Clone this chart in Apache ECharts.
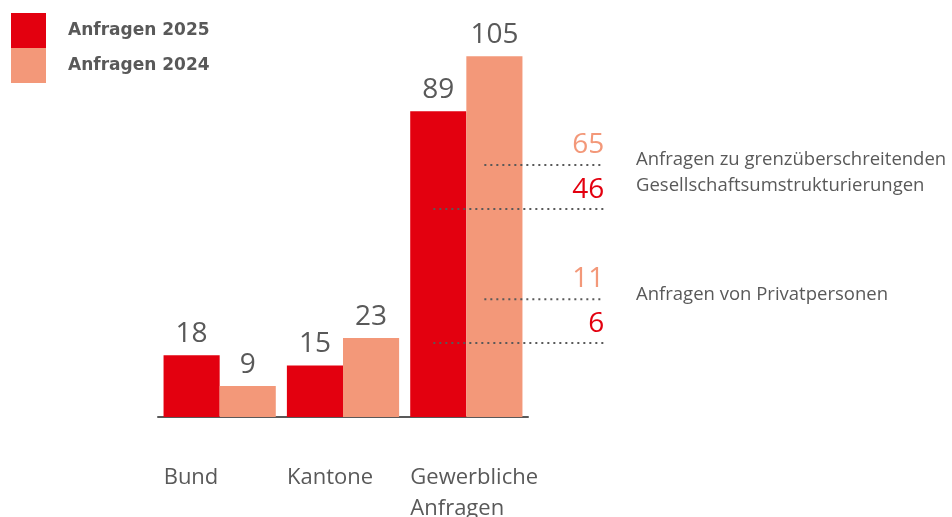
<!DOCTYPE html>
<html>
<head>
<meta charset="utf-8">
<script src="https://cdn.jsdelivr.net/npm/echarts@6/dist/echarts.min.js"></script>
<style>
  html, body { margin: 0; padding: 0; background: #fff; }
  #ChartDom { width: 952px; height: 517px; }
</style>
</head>
<body>
<div id="ChartDom"></div>
<script>
const categories = ["Bund", "Kantone", "Gewerbliche\nAnfragen"]
const seriesNames = ["Anfragen 2025", "Anfragen 2024"]
const values2025 = [18, 15, 89]
const values2024 = [9, 23, 105]

// Teilmengen der gewerblichen Anfragen
const detailLabels = ["Anfragen zu grenzüberschreitenden\nGesellschaftsumstrukturierungen", "Anfragen von Privatpersonen"]
const detail2024 = [65, 11]
const detail2025 = [46, 6]

// where the dotted guide lines sit (axis units) – layout only
const guideLevel2024 = [73.3, 34.3]
const guideLevel2025 = [60.5, 21.5]
const descOffset = [8, -4]

const RED = "#E3000F"
const SALMON = "#F39879"
const GREY = "#595959"
const FONT = "Open Sans"

const myChart = echarts.init(document.getElementById("ChartDom"))

let option = {
  animation: false,
  textStyle: { fontFamily: FONT },
  color: [RED, SALMON],
  legend: {
    orient: "vertical",
    left: 11,
    top: 13,
    padding: 0,
    itemGap: 0,
    itemWidth: 35,
    itemHeight: 35,
    icon: "rect",
    selectedMode: false,
    textStyle: {
      color: GREY,
      fontSize: 17,
      fontWeight: "bold",
      fontFamily: "DejaVu Sans",
      padding: [5, 0, 0, 17],
    },
    data: seriesNames,
  },
  grid: {
    left: 158,
    right: 424,
    top: 39,
    bottom: 100,
    containLabel: false,
    outerBoundsMode: "none",
  },
  xAxis: {
    type: "category",
    data: categories,
    axisLine: { show: true, lineStyle: { color: GREY, width: 2 } },
    axisTick: { show: false },
    axisLabel: {
      margin: 45,
      interval: 0,
      formatter: (v) => v.split("\n").map((s) => "{a|" + s + "}").join("\n"),
      rich: {
        a: {
          width: 112,
          align: "left",
          fontSize: 22,
          lineHeight: 31,
          color: GREY,
          fontFamily: FONT,
        },
      },
    },
  },
  yAxis: {
    type: "value",
    min: 0,
    max: 110,
    show: false,
    splitLine: { show: false },
  },
  series: [
    {
      name: seriesNames[0],
      type: "bar",
      barGap: 0,
      barCategoryGap: "9%",
      data: values2025,
      label: { show: true, position: "top", distance: 7, fontSize: 28, color: GREY, fontFamily: FONT },
    },
    {
      name: seriesNames[1],
      type: "bar",
      barGap: 0,
      barCategoryGap: "9%",
      data: values2024,
      label: { show: true, position: "top", distance: 7, fontSize: 28, color: GREY, fontFamily: FONT },
    },
  ],
}
myChart.setOption(option)

// dotted guides + annotations next to "Gewerbliche Anfragen"
const cx = myChart.convertToPixel({ xAxisIndex: 0 }, categories[2])
const endX = cx + 138
const dotted = { stroke: GREY, lineWidth: 2, lineDash: [2, 4] }
let graphics = []
detailLabels.forEach((desc, i) => {
  const y24 = myChart.convertToPixel({ yAxisIndex: 0 }, guideLevel2024[i])
  const y25 = myChart.convertToPixel({ yAxisIndex: 0 }, guideLevel2025[i])
  graphics.push(
    { type: "line", z: 100, shape: { x1: cx + 18, y1: y24, x2: endX, y2: y24 }, style: dotted },
    { type: "line", z: 100, shape: { x1: cx - 33, y1: y25, x2: endX, y2: y25 }, style: dotted },
    {
      type: "text", z: 100, x: endX, y: y24 - 20,
      style: { text: String(detail2024[i]), fill: SALMON, font: "28px '" + FONT + "'", align: "right", verticalAlign: "middle" },
    },
    {
      type: "text", z: 100, x: endX, y: y25 - 19,
      style: { text: String(detail2025[i]), fill: RED, font: "28px '" + FONT + "'", align: "right", verticalAlign: "middle" },
    },
    {
      type: "text", z: 100, x: 636, y: y24 + descOffset[i],
      style: { text: desc, fill: GREY, font: "18.5px '" + FONT + "'", lineHeight: 26, align: "left", verticalAlign: "middle" },
    }
  )
})
myChart.setOption({ graphic: graphics })
</script>
</body>
</html>
